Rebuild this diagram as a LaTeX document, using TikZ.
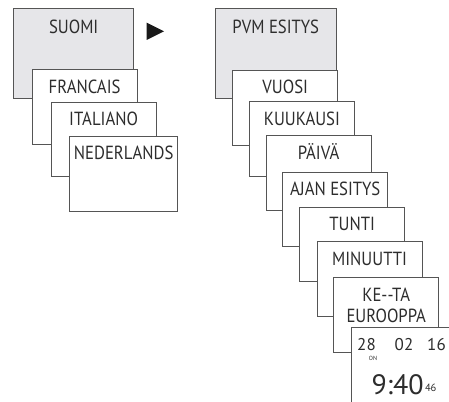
\documentclass[tikz,border=0pt]{standalone}
\usepackage{fontspec}
\setmainfont{PT Sans}[FakeStretch=0.88]
\newfontfamily\anzeigefont{PT Sans}
\usetikzlibrary{positioning}
\definecolor{rahmen}{RGB}{85,85,85}
\definecolor{menugrau}{RGB}{230,230,233}
\definecolor{schrift}{RGB}{45,45,45}
\tikzset{
  hauptbox/.style={draw=rahmen, fill=menugrau, line width=0.8pt, minimum width=120pt, minimum height=90pt, anchor=north west, inner sep=0pt},
  menubox/.style={draw=rahmen, fill=white, line width=0.8pt, minimum width=105pt, minimum height=74.5pt, anchor=north west, inner sep=0pt},
  basistext/.style={text=schrift, font=\fontsize{19}{20.7}\selectfont, inner sep=0pt, align=center},
  menutext/.style={basistext, text height=13.3pt, text depth=0pt},
  anzeigetext/.style={text=schrift, inner sep=0pt, anchor=base}
}
\begin{document}
\begin{tikzpicture}[x=1pt, y=-1pt]
	\clip (0,0) rectangle (449,401);
	% Sprachen
	\node[hauptbox] (suomi) at (13.3,8.3) {};
	\node[menutext, below=12pt of suomi.north] (suomit) {SUOMI};
	\node[menubox] (francais) at (31.7,69.3) {};
	\node[menutext, below=10.5pt of francais.north] (francaist) {FRANCAIS};
	\node[menubox] (italiano) at (50.7,101.7) {};
	\node[menutext, below=10.5pt of italiano.north] (italianot) {ITALIANO};
	\node[menubox, minimum width=108pt, minimum height=75pt] (nederlands) at (69.3,135.7) {};
	\node[menutext, below=10.5pt of nederlands.north] (nederlandst) {NEDERLANDS};
	% Pfeil
	\fill[black!90] (146.7,22.7) -- (164,31.3) -- (146.7,40) -- cycle;
	% Datum und Zeit
	\node[hauptbox, minimum width=120.7pt] (pvm) at (215,8.3) {};
	\node[menutext, below=12pt of pvm.north] (pvmt) {PVM ESITYS};
	\node[menubox] (vuosi) at (232.3,70) {};
	\node[menutext, below=10.5pt of vuosi.north] (vuosit) {VUOSI};
	\node[menubox] (kuukausi) at (249,101) {};
	\node[menutext, below=10.5pt of kuukausi.north] (kuukausit) {KUUKAUSI};
	\node[menubox] (paiva) at (265.7,135) {};
	\node[menutext, below=10.5pt of paiva.north] (paivat) {PÄIVÄ};
	\node[menubox] (ajan) at (282.3,171.7) {};
	\node[menutext, below=10.5pt of ajan.north] (ajant) {AJAN ESITYS};
	\node[menubox] (tunti) at (299.3,206.7) {};
	\node[menutext, below=10.5pt of tunti.north] (tuntit) {TUNTI};
	\node[menubox] (minuutti) at (316.7,241) {};
	\node[menutext, below=10.5pt of minuutti.north] (minuuttit) {MINUUTTI};
	\node[menubox] (keta) at (333.3,277.3) {};
	\node[basistext, below=10.5pt of keta.north] (ketat) {KE-{}-TA\\EUROOPPA};
	% Anzeige
	\node[menubox] (anzeige) at (350.7,327.3) {};
	\node[anzeigetext, font=\anzeigefont\fontsize{17}{17}\selectfont] (tag) at (366.5,350) {28};
	\node[anzeigetext, font=\anzeigefont\fontsize{17}{17}\selectfont] (monat) at (404,350) {02};
	\node[anzeigetext, font=\anzeigefont\fontsize{17}{17}\selectfont] (jahr) at (436.5,350) {16};
	\node[anzeigetext, font=\anzeigefont\fontsize{6}{6}\selectfont] (on) at (373,360.7) {ON};
	\node[anzeigetext, anchor=base west, font=\anzeigefont\fontsize{28}{28}\selectfont] (uhr) at (371.5,394) {9:40};
	\node[anzeigetext, anchor=base west, font=\anzeigefont\fontsize{10.5}{10.5}\selectfont] (sek) at ([xshift=1pt, yshift=3pt]uhr.base east) {46};
\end{tikzpicture}
\end{document}
